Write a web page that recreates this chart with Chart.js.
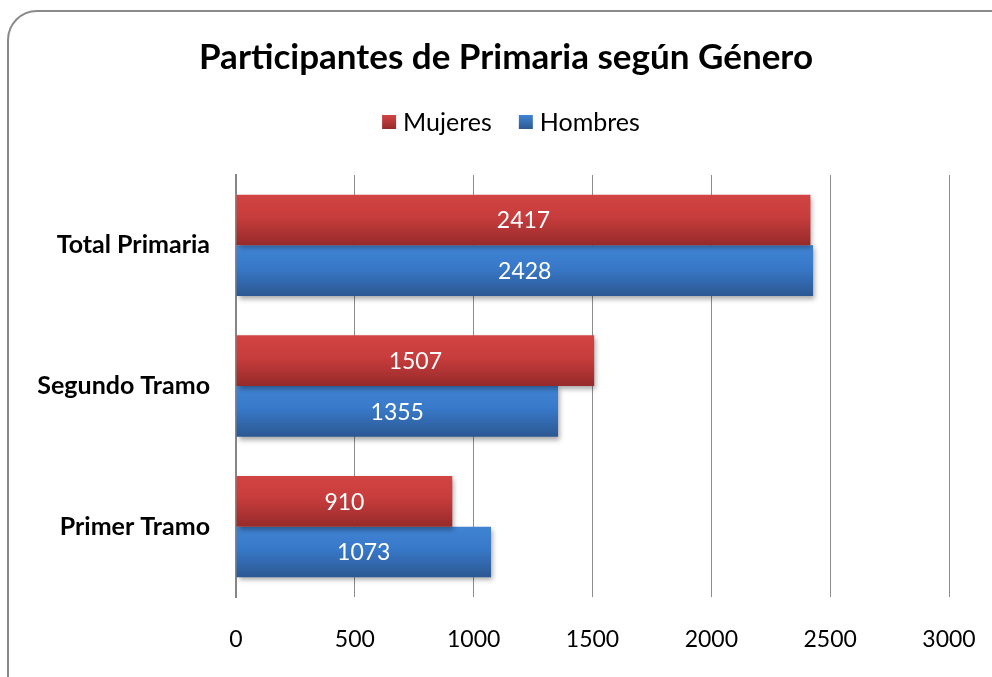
<!DOCTYPE html>
<html>
<head>
<meta charset="utf-8">
<script src="https://cdn.jsdelivr.net/npm/chart.js@4"></script>
<style>
    html, body { margin: 0; padding: 0; background: #fff; overflow: hidden; }
    .frame {
        position: absolute; left: 7px; top: 10px; width: 1015px; height: 700px;
        border: 2px solid #8a8a8a; border-radius: 30px; box-sizing: border-box;
    }
    .wrap { position: absolute; left: 0; top: 0; width: 992px; height: 677px; }
</style>
</head>
<body>
<div class="frame"></div>
<div class="wrap"><canvas id="chart"></canvas></div>
<script>
const categories = ['Total Primaria', 'Segundo Tramo', 'Primer Tramo'];
const mujeres = [2417, 1507, 910];
const hombres = [2428, 1355, 1073];
const seriesNames = ['Mujeres', 'Hombres'];
const chartTitle = 'Participantes de Primaria según Género';
const xMin = 0, xMax = 3000, xStep = 500;

const FONT = 'Lato';
const CAT_PCT = 0.72;
const palettes = [
    { top: '#d24444', mid: '#c73c3c', bottom: '#962a2a', solid: '#c0392f' },
    { top: '#4184d4', mid: '#3878c8', bottom: '#2c5892', solid: '#3a73be' }
];

const barFill = (c) => {
    const pal = palettes[c.datasetIndex];
    const y = c.chart.scales.y;
    if (!y || c.dataIndex === undefined) return pal.solid;
    const center = y.getPixelForValue(c.dataIndex);
    const half = (y.bottom - y.top) / categories.length * CAT_PCT / 2;
    const top = c.datasetIndex === 0 ? center - half : center;
    if (!Number.isFinite(top) || !Number.isFinite(half) || half <= 0) return pal.solid;
    const g = c.chart.ctx.createLinearGradient(0, top, 0, top + half);
    g.addColorStop(0, pal.top);
    g.addColorStop(0.45, pal.mid);
    g.addColorStop(1, pal.bottom);
    return g;
};

const shadowPlugin = {
    id: 'shadow',
    beforeDatasetsDraw(chart) {
        const ctx = chart.ctx;
        ctx.save();
        ctx.shadowColor = 'rgba(0,0,0,0.35)';
        ctx.shadowBlur = 5;
        ctx.shadowOffsetX = 2;
        ctx.shadowOffsetY = 3;
    },
    afterDatasetsDraw(chart) {
        chart.ctx.restore();
    }
};

const labelPlugin = {
    id: 'barLabels',
    afterDatasetsDraw(chart) {
        const ctx = chart.ctx;
        ctx.save();
        ctx.fillStyle = '#fff';
        ctx.font = '23px ' + FONT;
        ctx.textAlign = 'center';
        ctx.textBaseline = 'middle';
        chart.data.datasets.forEach((ds, di) => {
            chart.getDatasetMeta(di).data.forEach((el, i) => {
                ctx.fillText(String(ds.data[i]), (el.x + el.base) / 2, el.y + 1);
            });
        });
        ctx.restore();
    }
};

// title and legend drawn by hand so they can sit off the plot's centre line
const headerPlugin = {
    id: 'header',
    afterDraw(chart) {
        const ctx = chart.ctx;
        ctx.save();
        ctx.fillStyle = '#000';
        ctx.font = 'bold 35px ' + FONT;
        ctx.textAlign = 'center';
        ctx.textBaseline = 'middle';
        ctx.fillText(chartTitle, 506, 58);

        ctx.textAlign = 'left';
        ctx.font = '25px ' + FONT;
        const box = 14, gap = 7, spacing = 27;
        const widths = seriesNames.map(n => box + gap + ctx.measureText(n).width);
        const total = widths.reduce((a, b) => a + b, 0) + spacing * (widths.length - 1);
        let x = 511 - total / 2;
        const y = 122;
        seriesNames.forEach((name, i) => {
            const g = ctx.createLinearGradient(0, y - box / 2, 0, y + box / 2);
            g.addColorStop(0, palettes[i].top);
            g.addColorStop(1, palettes[i].bottom);
            ctx.fillStyle = g;
            ctx.fillRect(x, y - box / 2, box, box);
            ctx.fillStyle = '#000';
            ctx.fillText(name, x + box + gap, y + 1);
            x += widths[i] + spacing;
        });
        ctx.restore();
    }
};

new Chart(document.getElementById('chart'), {
    type: 'bar',
    data: {
        labels: categories,
        datasets: [
            { label: seriesNames[0], data: mujeres, backgroundColor: barFill },
            { label: seriesNames[1], data: hombres, backgroundColor: barFill }
        ]
    },
    options: {
        indexAxis: 'y',
        responsive: true,
        maintainAspectRatio: false,
        animation: false,
        layout: { padding: { left: 10, right: 43, top: 175, bottom: 27 } },
        datasets: { bar: { categoryPercentage: CAT_PCT, barPercentage: 1 } },
        plugins: {
            legend: { display: false },
            tooltip: { enabled: false },
            title: { display: false }
        },
        scales: {
            x: {
                min: xMin, max: xMax,
                ticks: {
                    stepSize: xStep, color: '#000', font: { family: FONT, size: 23 }, padding: 29,
                    callback: (v) => String(v)
                },
                grid: { color: '#8c8c8c', lineWidth: 1, drawTicks: false },
                border: { display: false },
                afterFit(scale) {
                    scale.height = 53;
                    scale.paddingLeft = 0;
                    scale.paddingRight = 0;
                }
            },
            y: {
                ticks: { color: '#000', font: { family: FONT, size: 25, weight: 'bold' }, padding: 26 },
                grid: { display: false, drawTicks: false },
                border: { display: true, color: '#868686', width: 2 },
                afterFit(scale) { scale.width = 236 - 10; }
            }
        }
    },
    plugins: [shadowPlugin, labelPlugin, headerPlugin]
});
</script>
</body>
</html>
